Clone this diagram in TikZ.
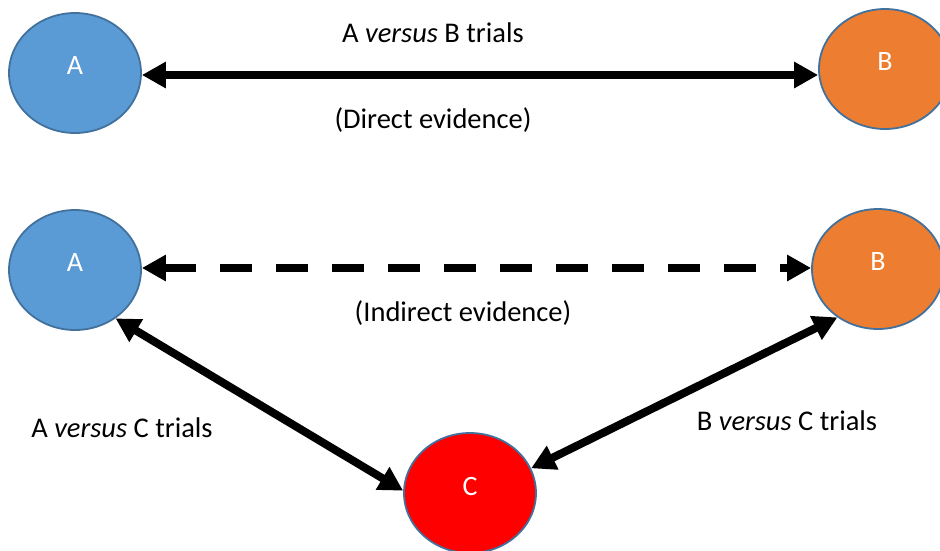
\documentclass[tikz,border=0pt]{standalone}
\usepackage{fontspec}
\setmainfont{Carlito}
\usetikzlibrary{arrows.meta,shapes.geometric}
\definecolor{nodeblue}{HTML}{5B9BD5}
\definecolor{nodeorange}{HTML}{ED7D31}
\definecolor{nodered}{HTML}{FF0000}
\definecolor{rimblue}{HTML}{41719C}
\tikzset{
  circ/.style={ellipse, draw=rimblue, line width=1.8pt, minimum width=132pt, minimum height=120pt, inner sep=0pt, text depth=14pt, text=white, font=\fontsize{28}{32}\selectfont},
  link/.style={line width=8pt, {Triangle[length=24pt,width=25pt]}-{Triangle[length=24pt,width=25pt]}},
  lab/.style={font=\fontsize{28.5}{33}\selectfont, inner sep=0pt}
}
\begin{document}
\begin{tikzpicture}[x=1pt,y=-1pt]
\useasboundingbox (0,0) rectangle (940,550);
\node[circ, fill=nodeblue] (A1) at (75,73) {A};
\node[circ, fill=nodeorange] (B1) at (885,69) {B};
\node[circ, fill=nodeblue] (A2) at (75,270) {A};
\node[circ, fill=nodeorange] (B2) at (878,269) {B};
\node[circ, fill=nodered] (C) at (470,493) {C};
\draw[link] (A1.east |- 0,75) -- (B1.west |- 0,75);
\draw[link, dash pattern=on 32pt off 24pt] (A2.east |- 0,268) -- (B2.west |- 0,268);
\draw[link] (A2.-50) -- (C.178);
\draw[link] (B2.-130) -- (C.22);
\node[lab] (t1) at (433,33) {A \textit{versus} B trials};
\node[lab] (t2) at (433,120) {(Direct evidence)};
\node[lab] (t3) at (463,313) {(Indirect evidence)};
\node[lab] (t4) at (122,428) {A \textit{versus} C trials};
\node[lab] (t5) at (787,421) {B \textit{versus} C trials};
\end{tikzpicture}
\end{document}
